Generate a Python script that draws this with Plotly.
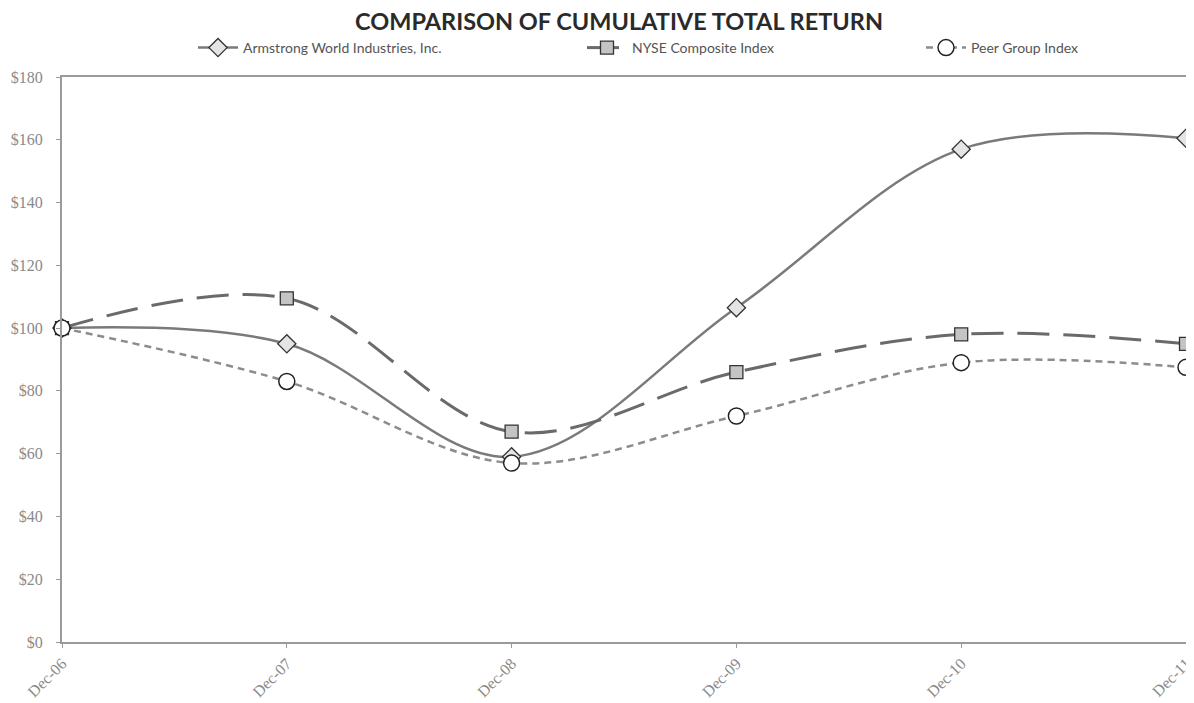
import plotly.graph_objects as go

years = ["Dec-06", "Dec-07", "Dec-08", "Dec-09", "Dec-10", "Dec-11"]
armstrong = [100, 95, 59, 106.5, 157, 160.5]
nyse = [100, 109.5, 67, 86, 98, 95]
peer = [100, 83, 57, 72, 89, 87.5]
y_ticks = [0, 20, 40, 60, 80, 100, 120, 140, 160, 180]
y_labels = ["$" + str(v) for v in y_ticks]

fig = go.Figure()
fig.add_trace(go.Scatter(
    x=years, y=armstrong, name="Armstrong World Industries, Inc.", showlegend=True,
    mode="lines+markers", line=dict(color="#7a7a7a", width=2.5, shape="spline", smoothing=1.0),
    marker=dict(symbol="diamond", size=14, color="#e4e4e4", line=dict(color="#333333", width=1.3)),
    cliponaxis=False, legend="legend"))
fig.add_trace(go.Scatter(
    x=years, y=nyse, name="NYSE Composite Index", showlegend=True,
    mode="lines+markers", line=dict(color="#6a6a6a", width=3, dash="32px,14px", shape="spline", smoothing=1.0),
    marker=dict(symbol="square", size=13, color="#c4c4c4", line=dict(color="#333333", width=1.3)),
    cliponaxis=False, legend="legend2"))
fig.add_trace(go.Scatter(
    x=years, y=peer, name="Peer Group Index", showlegend=True,
    mode="lines+markers", line=dict(color="#8c8c8c", width=2.5, dash="7px,5px", shape="spline", smoothing=1.0),
    marker=dict(symbol="circle", size=16, color="#ffffff", line=dict(color="#222222", width=1.5)),
    cliponaxis=False, legend="legend3"))

legend_font = dict(family="Lato, 'Open Sans', sans-serif", size=14, color="#555555")
common = dict(orientation="h", yanchor="middle", xanchor="left", font=legend_font,
              bgcolor="rgba(0,0,0,0)", itemwidth=40, tracegroupgap=0, visible=True)

# page body has an 8px offset; plot area is targeted at x 62..1186, y 77..642
OFF = 8
W, H = 1194 - OFF, 703 - OFF


def ypaper(px):
    return (642 - px) / 565


def xpaper(px):
    return (px - 62) / 1124


fig.update_layout(
    width=W, height=H,
    showlegend=True,
    paper_bgcolor="white", plot_bgcolor="white",
    margin=dict(l=62 - OFF, r=W - (1186 - OFF), t=77 - OFF, b=H - (642 - OFF), autoexpand=False),
    title=dict(text="<b>COMPARISON OF CUMULATIVE TOTAL RETURN</b>", x=(619 - OFF) / W, xanchor="center",
               y=1 - (22 - OFF) / H, yanchor="middle",
               font=dict(family="Lato, 'Open Sans', sans-serif", size=23.5, color="#2a2a2a")),
    legend=dict(x=xpaper(193), y=ypaper(48), **common),
    legend2=dict(x=xpaper(582), y=ypaper(48), **common),
    legend3=dict(x=xpaper(921), y=ypaper(48), **common),
    xaxis=dict(type="category", range=[0, 5], showgrid=False, zeroline=False,
               showline=True, linecolor="#9a9a9a", linewidth=2, mirror=True,
               ticks="outside", ticklen=4, tickcolor="#9a9a9a", tickangle=-45,
               tickfont=dict(family="'Liberation Serif', serif", size=16, color="#8a8a8a")),
    yaxis=dict(range=[0, 180], tickvals=y_ticks, ticktext=y_labels, showgrid=False, zeroline=False,
               showline=True, linecolor="#9a9a9a", linewidth=2, mirror=True,
               ticks="outside", ticklen=4, tickcolor="#9a9a9a", ticklabelstandoff=10,
               tickfont=dict(family="'Liberation Serif', serif", size=16, color="#8a8a8a")),
)

fig.write_html("out.html")
